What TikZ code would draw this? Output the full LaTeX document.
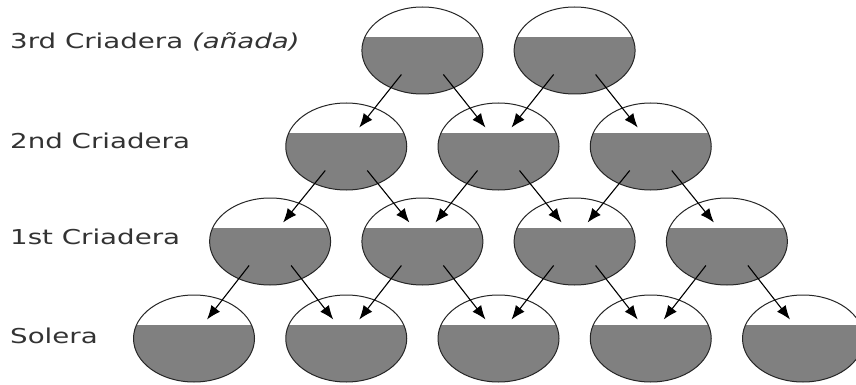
\documentclass[tikz,border=0pt]{standalone}
\usepackage{fontspec}
\setmainfont{DejaVu Sans}
\usetikzlibrary{calc,arrows.meta,shapes.geometric}
\definecolor{wine}{RGB}{128,128,128}
\tikzset{
 barrel/.style={ellipse, draw=black!85, line width=1pt, minimum width=121pt, minimum height=87pt, inner sep=0pt,
   path picture={\fill[wine] ([yshift=13.5pt]path picture bounding box.west) rectangle (path picture bounding box.south east);}},
 flow/.style={draw=black, line width=1.1pt, -{Latex[length=14pt,width=11pt]}},
 lbl/.style={anchor=base west, inner sep=0pt, text=black!80, font=\fontsize{20.5}{24}\selectfont}
}
\begin{document}
\begin{tikzpicture}[x=1pt,y=1pt]
\clip (0,0) rectangle (856,-385);
\fill[white] (0,0) rectangle (856,-385);
% Solera
\node[barrel] (s1) at (194,-338.5) {};
\node[barrel] (s2) at (346.25,-338.5) {};
\node[barrel] (s3) at (498.5,-338.5) {};
\node[barrel] (s4) at (650.75,-338.5) {};
\node[barrel] (s5) at (803,-338.5) {};
% 1st Criadera
\node[barrel] (f1) at (270.1,-241.5) {};
\node[barrel] (f2) at (422.4,-241.5) {};
\node[barrel] (f3) at (574.6,-241.5) {};
\node[barrel] (f4) at (726.9,-241.5) {};
% 2nd Criadera
\node[barrel] (t1) at (346.25,-146.5) {};
\node[barrel] (t2) at (498.5,-146.5) {};
\node[barrel] (t3) at (650.75,-146.5) {};
% 3rd Criadera
\node[barrel] (a1) at (422.4,-50.5) {};
\node[barrel] (a2) at (574.6,-50.5) {};
% labels
\node[lbl] (l3) at (10,-48.3) {\scalebox{1.35}[1]{3rd Criadera \textit{(añada)}}};
\node[lbl] (l2) at (10,-148) {\scalebox{1.35}[1]{2nd Criadera}};
\node[lbl] (l1) at (10,-244.3) {\scalebox{1.35}[1]{1st Criadera}};
\node[lbl] (l0) at (10,-343.3) {\scalebox{1.35}[1]{Solera}};
% arrows
\foreach \p/\l/\r in {a1/t1/t2, a2/t2/t3, t1/f1/f2, t2/f2/f3, t3/f3/f4, f1/s1/s2, f2/s2/s3, f3/s3/s4, f4/s4/s5}{
  \draw[flow] ($(\p)+(-21,-24)$) -- ($(\l)+(13,19)$);
  \draw[flow] ($(\p)+(21,-24)$) -- ($(\r)+(-13,19)$);
}
\end{tikzpicture}
\end{document}
